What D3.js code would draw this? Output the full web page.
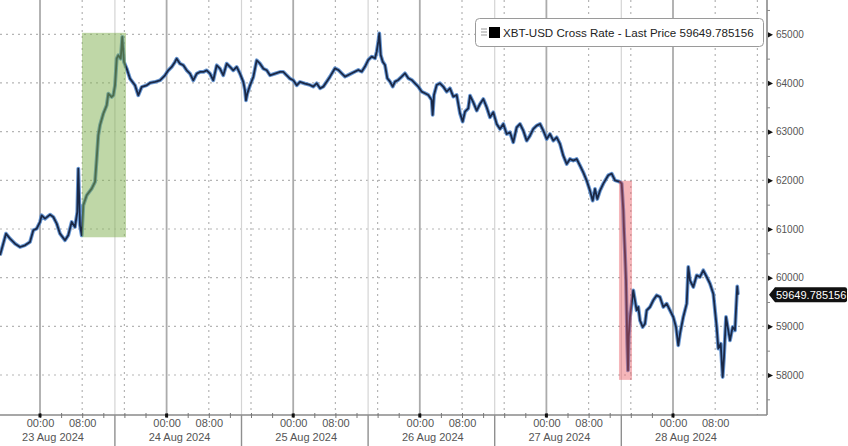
<!DOCTYPE html>
<html>
<head>
<meta charset="utf-8">
<script src="https://cdn.jsdelivr.net/npm/d3@7"></script>
<style>
  html, body { margin: 0; padding: 0; background: #fff; }
  svg { display: block; font-family: "Liberation Sans", Arial, sans-serif; }
</style>
</head>
<body>
<svg id="chart" width="848" height="446"></svg>
<script>
// ---------------- DATA ----------------
// hours since 23 Aug 2024 00:00
const hours = [
  -7.58,-6.45,-5.69,-4.74,-3.79,-2.84,-1.90,-1.27,-0.63,0,0.32,0.95,1.90,2.52,3.17,3.79,4.74,5.36,6.01,6.63,7.07,7.26,7.58,7.91,
  8.21,8.85,9.80,10.43,10.75,11.05,11.37,12.00,12.64,12.95,13.59,13.90,14.22,14.54,14.84,15.30,15.60,15.92,16.44,17.06,18.01,18.63,19.28,20.23,
  20.85,21.80,22.75,23.70,24.32,24.97,25.59,25.91,26.54,27.17,27.81,28.44,29.06,29.71,30.33,30.96,31.60,32.23,32.85,33.50,34.12,34.75,35.39,36.02,
  36.64,37.29,37.91,38.54,38.86,39.05,39.30,39.81,40.44,41.08,41.71,42.33,42.98,43.60,44.55,45.50,46.12,46.77,47.39,48.02,48.66,49.29,50.24,
  51.18,51.81,52.45,53.08,53.71,54.35,54.98,55.92,56.55,57.19,57.82,58.45,59.09,59.71,60.34,60.98,61.61,62.24,62.88,63.51,63.83,64.13,64.32,64.59,
  64.97,65.40,65.84,66.35,66.86,67.30,67.92,68.57,69.19,69.82,70.46,71.09,71.71,72.36,72.98,73.61,74.25,74.44,74.69,75.20,75.83,76.45,77.10,77.72,
  78.35,78.99,79.62,80.13,80.57,81.19,
  81.52,82.14,82.79,83.41,84.04,84.68,85.31,85.93,86.58,87.20,87.83,88.47,89.10,89.72,90.37,90.99,91.62,92.26,92.89,93.52,94.16,94.79,95.41,96.06,
  96.68,97.31,97.95,98.58,99.20,99.85,100.47,101.10,101.74,102.37,102.99,103.64,104.26,104.78,105.21,105.65,106.16,
  106.79,107.73,108.38,109.00,109.95,110.27,110.58,110.71,110.90,111.09,111.22,111.33,111.47,111.60,111.85,112.17,112.47,112.79,113.11,113.42,113.74,
  114.25,114.69,115.01,115.64,116.26,116.91,117.53,118.16,118.80,119.43,120.05,120.57,121.00,121.33,121.95,122.60,122.90,123.22,123.85,124.49,125.12,
  125.74,126.39,127.01,127.64,127.96,128.28,128.59,129.04,129.42,129.67,130.05,130.48,130.80,131.31,131.75,132.07,132.18,132.31
];
const prices = [
  60459,60904,60802,60699,60630,60665,60733,60973,61007,61144,61281,61212,61295,61247,61110,60904,60767,60870,61144,61041,61349,62240,61076,60870,
  61487,61692,61829,61966,62445,62925,63130,63370,63541,63781,63712,63747,63952,64500,64569,64500,64945,64432,64295,64089,63952,63747,63918,63952,
  64000,64021,64055,64158,64260,64329,64432,64500,64397,64363,64260,64192,64055,64192,64226,64226,64260,64192,64055,64363,64295,64158,64397,64329,
  64260,64329,64192,64021,63849,63644,63781,63952,64123,64466,64397,64295,64260,64158,64192,64226,64226,64158,64089,64055,63952,64021,63986,
  63959,63925,63993,63890,63925,64027,64130,64301,64267,64199,64130,64164,64199,64233,64267,64233,64336,64473,64541,64507,64644,64849,65020,64575,
  64438,64370,64096,64027,63925,64027,64062,64130,64199,64096,64062,63993,63925,63822,63788,63753,63651,63343,63753,63959,63993,63925,63822,63890,
  63719,63753,63377,63206,63411,63479,
  63740,63603,63432,63568,63671,63500,63295,63397,63158,63055,63158,62952,62986,62781,63089,63158,63021,62815,62918,63055,63123,63158,63021,62849,
  62952,62815,62884,62747,62507,62336,62438,62404,62438,62301,62164,61993,61788,61582,61822,61617,61788,
  61932,62103,62137,62000,61966,61932,61384,60973,60493,59945,59260,58644,58096,58781,59192,59466,59740,59534,59329,59397,59123,
  58986,59055,59329,59397,59534,59637,59603,59397,59466,59329,59192,58986,58610,58849,59192,59466,60219,59945,59808,60048,60014,
  60151,60014,59877,59671,59329,58986,58541,58644,57959,58370,59192,58918,58712,58986,58918,59603,59820,59649.785156
];
const lastPrice = 59649.785156;
const seriesName = "XBT-USD Cross Rate - Last Price";

// highlighted windows: [startHour, endHour, lowPrice, highPrice]
const greenBand = [7.96, 16.30, 60830, 65030];
const redBand = [109.76, 112.23, 57900, 61990];

// tick labels
const priceTicks = [58000, 59000, 60000, 61000, 62000, 63000, 64000, 65000];
const priceMinorTicks = [57500, 58500, 59500, 60500, 61500, 62500, 63500, 64500, 65500];
const dayLabels = ["23 Aug 2024", "24 Aug 2024", "25 Aug 2024", "26 Aug 2024", "27 Aug 2024", "28 Aug 2024"];
const timeLabelHours = [0, 8];          // "00:00", "08:00" labelled each day
const gridDottedHours = [8, 16];        // dotted intraday gridlines
const separatorHour = 14.2;             // date-box separators

// ---------------- SETUP ----------------
const W = 848, H = 446;
const plotLeft = 0, plotRight = 767, plotTop = 0, plotBottom = 415;
const base = Date.UTC(2024, 7, 23, 0, 0);
const toDate = h => new Date(base + h * 3600e3);
const data = hours.map((h, i) => ({ t: toDate(h), p: prices[i] }));
const dayDates = dayLabels.map((d, i) => toDate(24 * i));

const x = d3.scaleUtc().domain([toDate(0), toDate(120)]).range([40, 673]);
const y = d3.scaleLinear().domain([58000, 65000]).range([375, 34.3]);

const svg = d3.select("#chart");
svg.append("defs").append("clipPath").attr("id", "plotclip")
  .append("rect").attr("x", plotLeft).attr("y", plotTop)
  .attr("width", plotRight - plotLeft).attr("height", plotBottom - plotTop);

const grid = svg.append("g").attr("clip-path", "url(#plotclip)");

// horizontal dotted gridlines
grid.selectAll("line.hg").data(priceTicks).join("line")
  .attr("x1", plotLeft).attr("x2", plotRight)
  .attr("y1", d => y(d)).attr("y2", d => y(d))
  .attr("stroke", "#b5b5b5").attr("stroke-width", 1.2).attr("stroke-dasharray", "2,4");

// vertical gridlines
const dottedTimes = [];
for (let d = -1; d < 6; d++) gridDottedHours.forEach(h => dottedTimes.push(toDate(24 * d + h)));
grid.selectAll("line.vd").data(dottedTimes).join("line")
  .attr("x1", d => x(d)).attr("x2", d => x(d))
  .attr("y1", plotTop).attr("y2", plotBottom)
  .attr("stroke", "#b5b5b5").attr("stroke-width", 1.2).attr("stroke-dasharray", "2,4");

const sepTimes = dayDates.slice(0, 5).map((d, i) => toDate(24 * i + separatorHour));
grid.selectAll("line.vs").data(sepTimes).join("line")
  .attr("x1", d => x(d)).attr("x2", d => x(d))
  .attr("y1", plotTop).attr("y2", plotBottom)
  .attr("stroke", "#d4d4d4").attr("stroke-width", 1.2);

grid.selectAll("line.vm").data(dayDates).join("line")
  .attr("x1", d => x(d)).attr("x2", d => x(d))
  .attr("y1", plotTop).attr("y2", plotBottom)
  .attr("stroke", "#ababab").attr("stroke-width", 1.8);

// price line
const line = d3.line().x(d => x(d.t)).y(d => y(d.p));
const lg = svg.append("g").attr("clip-path", "url(#plotclip)");
lg.append("path").datum(data).attr("d", line)
  .attr("fill", "none").attr("stroke", "#4f86cc").attr("stroke-width", 3.8)
  .attr("stroke-linejoin", "round").attr("opacity", 0.85);
lg.append("path").datum(data).attr("d", line)
  .attr("fill", "none").attr("stroke", "#1a2846").attr("stroke-width", 1.8)
  .attr("stroke-linejoin", "round");

// highlight bands (drawn over the line, translucent)
const bands = [{ b: greenBand, fill: "#7fb04f", op: 0.5 }, { b: redBand, fill: "#e8505a", op: 0.42 }];
lg.selectAll("rect.band").data(bands).join("rect")
  .attr("x", d => x(toDate(d.b[0])))
  .attr("width", d => x(toDate(d.b[1])) - x(toDate(d.b[0])))
  .attr("y", d => y(d.b[3]))
  .attr("height", d => y(d.b[2]) - y(d.b[3]))
  .attr("fill", d => d.fill).attr("opacity", d => d.op);

// ---------------- AXES ----------------
svg.append("line").attr("x1", plotLeft).attr("x2", plotRight).attr("y1", plotBottom).attr("y2", plotBottom)
  .attr("stroke", "#8a8a8a").attr("stroke-width", 1.6);
svg.append("line").attr("x1", plotRight).attr("x2", plotRight).attr("y1", plotTop).attr("y2", plotBottom)
  .attr("stroke", "#8a8a8a").attr("stroke-width", 1.6);

// right axis
const yAxis = svg.append("g").attr("transform", `translate(${plotRight},0)`)
  .call(d3.axisRight(y).tickValues(priceTicks).tickSize(0).tickPadding(9).tickFormat(d3.format("d")));
yAxis.select(".domain").remove();
yAxis.selectAll("text").attr("fill", "#555").attr("font-size", "10px")
  .attr("font-family", "'Liberation Sans', Arial, sans-serif");
yAxis.selectAll(".tick").append("path").attr("d", "M1,-2.6L6,0L1,2.6Z").attr("fill", "#111");

const yMinor = svg.append("g").attr("transform", `translate(${plotRight},0)`)
  .call(d3.axisRight(y).tickValues(priceMinorTicks).tickSize(3).tickFormat(""));
yMinor.select(".domain").remove();
yMinor.selectAll("line").attr("stroke", "#888");

// bottom axis: minor ticks every 4h
const xMinor = svg.append("g").attr("transform", `translate(0,${plotBottom})`)
  .call(d3.axisBottom(x).ticks(d3.utcHour.every(4)).tickSize(3).tickFormat(""));
xMinor.select(".domain").remove();
xMinor.selectAll("line").attr("stroke", "#777").attr("y1", -2);

// major day markers
svg.selectAll("rect.daymark").data(dayDates).join("rect")
  .attr("x", d => x(d) - 1.5).attr("y", plotBottom - 1.5).attr("width", 3).attr("height", 4)
  .attr("fill", "#111");

// time labels
const timeTicks = [];
dayDates.forEach((d, i) => timeLabelHours.forEach(h => timeTicks.push(toDate(24 * i + h))));
const xAxis = svg.append("g").attr("transform", `translate(0,${plotBottom})`)
  .call(d3.axisBottom(x).tickValues(timeTicks).tickSize(0).tickPadding(4).tickFormat(d3.utcFormat("%H:%M")));
xAxis.select(".domain").remove();
xAxis.selectAll("text").attr("fill", "#555").attr("font-size", "11px")
  .attr("font-family", "'Liberation Sans', Arial, sans-serif");

// date labels
svg.selectAll("text.date").data(dayLabels).join("text")
  .attr("x", (d, i) => x(dayDates[i]) + 13).attr("y", 441)
  .attr("text-anchor", "middle").attr("fill", "#555").attr("font-size", "11px")
  .text(d => d);

// separators below axis
svg.selectAll("line.sepb").data(sepTimes).join("line")
  .attr("x1", d => x(d)).attr("x2", d => x(d)).attr("y1", plotBottom).attr("y2", H)
  .attr("stroke", "#8f8f8f").attr("stroke-width", 1.4);

// ---------------- LAST PRICE TAG ----------------
const ly = y(lastPrice);
svg.append("path")
  .attr("d", `M769,${ly} L775,${ly - 7.5} L845,${ly - 7.5} Q847,${ly - 7.5} 847,${ly - 5.5} L847,${ly + 5.5} Q847,${ly + 7.5} 845,${ly + 7.5} L775,${ly + 7.5} Z`)
  .attr("fill", "#111");
svg.append("text").attr("x", 776).attr("y", ly + 4).attr("fill", "#fff")
  .attr("font-size", "11px").text(d3.format(".6f")(lastPrice));

// ---------------- LEGEND ----------------
const leg = svg.append("g");
leg.append("rect").attr("x", 475.5).attr("y", 18.5).attr("width", 288).attr("height", 28).attr("rx", 4)
  .attr("fill", "#fff").attr("stroke", "#9a9a9a").attr("stroke-width", 1);
[0, 3, 6].forEach(o => leg.append("line").attr("x1", 481).attr("x2", 487)
  .attr("y1", 29 + o).attr("y2", 29 + o).attr("stroke", "#aaa").attr("stroke-width", 1.2));
leg.append("rect").attr("x", 489).attr("y", 27).attr("width", 11).attr("height", 11).attr("fill", "#000");
leg.append("text").attr("x", 503).attr("y", 37).attr("fill", "#222").attr("font-size", "11.6px")
  .text(`${seriesName} ${d3.format(".6f")(lastPrice)}`);
</script>
</body>
</html>
